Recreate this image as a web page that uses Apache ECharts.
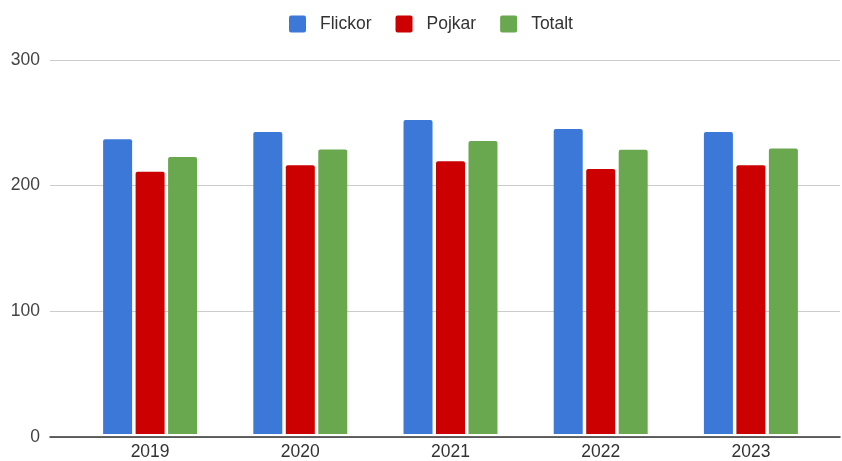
<!DOCTYPE html>
<html>
<head>
<meta charset="utf-8">
<script src="https://cdn.jsdelivr.net/npm/echarts@6/dist/echarts.min.js"></script>
<style>html,body{margin:0;padding:0;background:#fff}#c{width:842px;height:461px}</style>
</head>
<body>
<div id="c"></div>
<script>
const categories = ['2019', '2020', '2021', '2022', '2023'];
const flickor = [236.5, 242.3, 251.8, 244.7, 242.3];
const pojkar = [210.4, 215.5, 218.7, 212.6, 215.5];
const totalt = [222.1, 228.3, 235.1, 228.0, 229.0];
const yTicks = [0, 100, 200, 300];

const chart = echarts.init(document.getElementById('c'), null, {renderer: 'canvas'});
const font = '"Liberation Sans", Arial, sans-serif';
const barStyle = (c) => ({color: c, borderRadius: [2, 2, 0, 0]});
chart.setOption({
  animation: false,
  color: ['#3c78d8', '#cc0000', '#6aa84f'],
  legend: {
    top: 10, left: 284,
    itemWidth: 17, itemHeight: 17, itemGap: 24,
    icon: 'path://M2,0 H15 Q17,0 17,2 V15 Q17,17 15,17 H2 Q0,17 0,15 V2 Q0,0 2,0 Z',
    textStyle: {fontFamily: font, fontSize: 17.5, color: '#333', padding: [0, 0, 0, 9]},
    data: ['Flickor', 'Pojkar', 'Totalt']
  },
  grid: [
    {left: 50, right: 2, top: 60, bottom: 24},
    {left: 75, right: 16, top: 60, bottom: 24}
  ],
  xAxis: [
    {gridIndex: 0, type: 'value', min: 0, max: 1, axisLabel: {show: false}, axisTick: {show: false},
     splitLine: {show: false}, axisLine: {show: true, onZero: false, lineStyle: {color: '#333', width: 1.5}}},
    {gridIndex: 1, type: 'category', data: categories, axisTick: {show: false}, axisLine: {show: false},
     axisLabel: {fontFamily: font, fontSize: 17.5, color: '#333', margin: 9}}
  ],
  yAxis: [
    {gridIndex: 0, type: 'value', min: yTicks[0], max: yTicks[yTicks.length - 1], interval: 100,
     axisLabel: {fontFamily: font, fontSize: 17.5, color: '#444', margin: 10},
     splitLine: {lineStyle: {color: '#cccccc', width: 1}}, axisLine: {show: false}, axisTick: {show: false}},
    {gridIndex: 1, type: 'value', min: yTicks[0], max: yTicks[yTicks.length - 1], interval: 100,
     show: false, splitLine: {show: false}}
  ],
  series: [
    {name: 'Flickor', type: 'bar', xAxisIndex: 1, yAxisIndex: 1, data: flickor, barWidth: 29, barGap: '12%', itemStyle: barStyle('#3c78d8')},
    {name: 'Pojkar', type: 'bar', xAxisIndex: 1, yAxisIndex: 1, data: pojkar, barWidth: 29, barGap: '12%', itemStyle: barStyle('#cc0000')},
    {name: 'Totalt', type: 'bar', xAxisIndex: 1, yAxisIndex: 1, data: totalt, barWidth: 29, barGap: '12%', itemStyle: barStyle('#6aa84f')}
  ]
});
</script>
</body>
</html>
